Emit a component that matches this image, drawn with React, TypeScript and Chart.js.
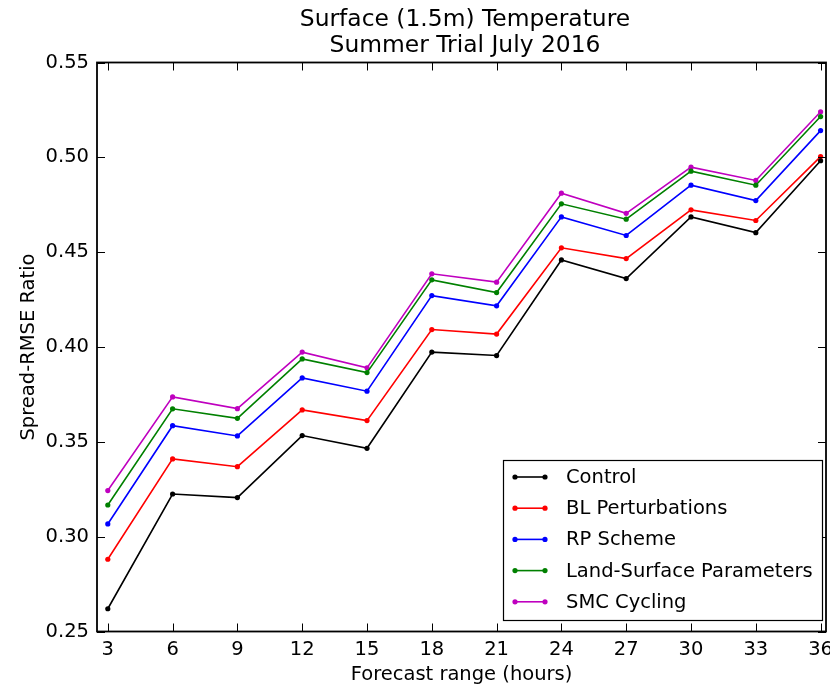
import React, { useEffect, useRef } from "react";
import { Chart, registerables } from "chart.js";

Chart.register(...registerables);

const forecastHours = [3, 6, 9, 12, 15, 18, 21, 24, 27, 30, 33, 36];
const yTickValues = [0.25, 0.3, 0.35, 0.4, 0.45, 0.5, 0.55];

const control = [0.262, 0.3225, 0.3206, 0.3533, 0.3466, 0.3973, 0.3955, 0.4459, 0.4361, 0.4686, 0.4603, 0.4982];
const blPerturbations = [0.2881, 0.341, 0.3369, 0.3668, 0.3612, 0.4092, 0.4068, 0.4523, 0.4466, 0.4723, 0.4667, 0.5004];
const rpScheme = [0.3067, 0.3585, 0.3531, 0.3837, 0.3767, 0.4271, 0.4217, 0.4686, 0.4588, 0.4853, 0.4772, 0.5141];
const landSurface = [0.3167, 0.3674, 0.3624, 0.3937, 0.3865, 0.4354, 0.4287, 0.4755, 0.4674, 0.4927, 0.4853, 0.5215];
const smcCycling = [0.3243, 0.3737, 0.3675, 0.3973, 0.389, 0.4386, 0.4342, 0.4811, 0.4705, 0.4948, 0.4878, 0.524];

const seriesNames = ["Control", "BL Perturbations", "RP Scheme", "Land-Surface Parameters", "SMC Cycling"];
const seriesColors = ["#000000", "#ff0000", "#0000ff", "#008000", "#bf00bf"];
const seriesValues = [control, blPerturbations, rpScheme, landSurface, smcCycling];

const titleLines = ["Surface (1.5m) Temperature", "Summer Trial July 2016"];
const FONT = "'DejaVu Sans', sans-serif";
const BASE = 19.5;

const decorPlugin = {
  id: "decor",
  afterDraw(chart: any) {
    const { ctx, chartArea } = chart;
    const xs = chart.scales.x;
    const ys = chart.scales.y;
    const { left, right, top, bottom } = chartArea;
    ctx.save();
    ctx.strokeStyle = "#000";
    ctx.lineWidth = 1;
    const tl = 8;
    forecastHours.forEach((h) => {
      const px = Math.round(xs.getPixelForValue(h)) + 0.5;
      ctx.beginPath();
      ctx.moveTo(px, bottom);
      ctx.lineTo(px, bottom - tl);
      ctx.moveTo(px, top);
      ctx.lineTo(px, top + tl);
      ctx.stroke();
    });
    yTickValues.forEach((v) => {
      const py = Math.round(ys.getPixelForValue(v)) + 0.5;
      ctx.beginPath();
      ctx.moveTo(left, py);
      ctx.lineTo(left + tl, py);
      ctx.moveTo(right, py);
      ctx.lineTo(right - tl, py);
      ctx.stroke();
    });
    ctx.lineWidth = 1.8;
    ctx.strokeRect(left, top, right - left, bottom - top);

    ctx.fillStyle = "#000";
    ctx.font = `23.4px ${FONT}`;
    ctx.textAlign = "center";
    ctx.textBaseline = "middle";
    ctx.fillText(titleLines[0], 465, 20);
    ctx.fillText(titleLines[1], 465, 46);

    const lx0 = 503.5, ly0 = 460.5, lw = 319, lh = 160;
    ctx.fillStyle = "#fff";
    ctx.fillRect(lx0, ly0, lw, lh);
    ctx.lineWidth = 1.2;
    ctx.strokeStyle = "#000";
    ctx.strokeRect(lx0, ly0, lw, lh);
    ctx.font = `${BASE}px ${FONT}`;
    ctx.textAlign = "left";
    ctx.textBaseline = "middle";
    chart.data.datasets.forEach((ds: any, i: number) => {
      const cy = 477 + i * 31.2;
      ctx.strokeStyle = ds.borderColor;
      ctx.fillStyle = ds.borderColor;
      ctx.lineWidth = 1.6;
      ctx.beginPath();
      ctx.moveTo(515, cy);
      ctx.lineTo(545, cy);
      ctx.stroke();
      [515, 545].forEach((mx) => {
        ctx.beginPath();
        ctx.arc(mx, cy, 2.6, 0, Math.PI * 2);
        ctx.fill();
      });
      ctx.fillStyle = "#000";
      ctx.fillText(ds.label, 566, cy + 1);
    });
    ctx.restore();
  },
};

export default function App() {
  const canvasRef = useRef<HTMLCanvasElement | null>(null);
  useEffect(() => {
    const canvas = canvasRef.current;
    if (!canvas) return;
    const chart = new Chart(canvas, {
      type: "line",
      data: {
        datasets: seriesNames.map((name, i) => ({
          label: name,
          data: forecastHours.map((h, j) => ({ x: h, y: seriesValues[i][j] })),
          borderColor: seriesColors[i],
          backgroundColor: seriesColors[i],
          pointBackgroundColor: seriesColors[i],
          pointBorderColor: seriesColors[i],
          borderWidth: 1.6,
          pointRadius: 2.6,
          pointBorderWidth: 0,
          tension: 0,
          fill: false,
        })),
      },
      options: {
        animation: false,
        responsive: false,
        devicePixelRatio: 1,
        layout: { padding: { top: 62.5, right: 1, bottom: 0, left: 0 } },
        plugins: {
          legend: { display: false },
          title: { display: false },
          tooltip: { enabled: false },
        },
        scales: {
          x: {
            type: "linear",
            min: 2.5,
            max: 36.25,
            grid: { display: false, drawTicks: false },
            border: { display: false },
            afterBuildTicks: (scale: any) => {
              scale.ticks = forecastHours.map((v) => ({ value: v }));
            },
            afterFit: (scale: any) => {
              scale.height = 56.5;
              scale.paddingLeft = 0;
              scale.paddingRight = 0;
            },
            ticks: {
              color: "#000",
              font: { family: FONT, size: BASE },
              padding: 7,
              maxRotation: 0,
              autoSkip: false,
              callback: (v: any) => String(v),
            },
            title: {
              display: true,
              text: "Forecast range (hours)",
              color: "#000",
              font: { family: FONT, size: BASE },
              padding: { top: 0, bottom: 1 },
            },
          },
          y: {
            min: 0.25,
            max: 0.55,
            grid: { display: false, drawTicks: false },
            border: { display: false },
            afterBuildTicks: (scale: any) => {
              scale.ticks = yTickValues.map((v) => ({ value: v }));
            },
            afterFit: (scale: any) => {
              scale.width = 97;
              scale.paddingTop = 0;
              scale.paddingBottom = 0;
            },
            ticks: {
              color: "#000",
              font: { family: FONT, size: BASE },
              padding: 8,
              callback: (v: any) => Number(v).toFixed(2),
            },
            title: {
              display: true,
              text: "Spread-RMSE Ratio",
              color: "#000",
              font: { family: FONT, size: BASE },
              padding: { top: 17, bottom: 0 },
            },
          },
        },
      },
      plugins: [decorPlugin],
    });
    return () => chart.destroy();
  }, []);
  return (
    <div style={{ position: "fixed", left: 0, top: 0, width: 830, height: 688, overflow: "hidden", background: "#fff" }}>
      <canvas ref={canvasRef} width={830} height={688} style={{ display: "block", width: 830, height: 688 }} />
    </div>
  );
}
